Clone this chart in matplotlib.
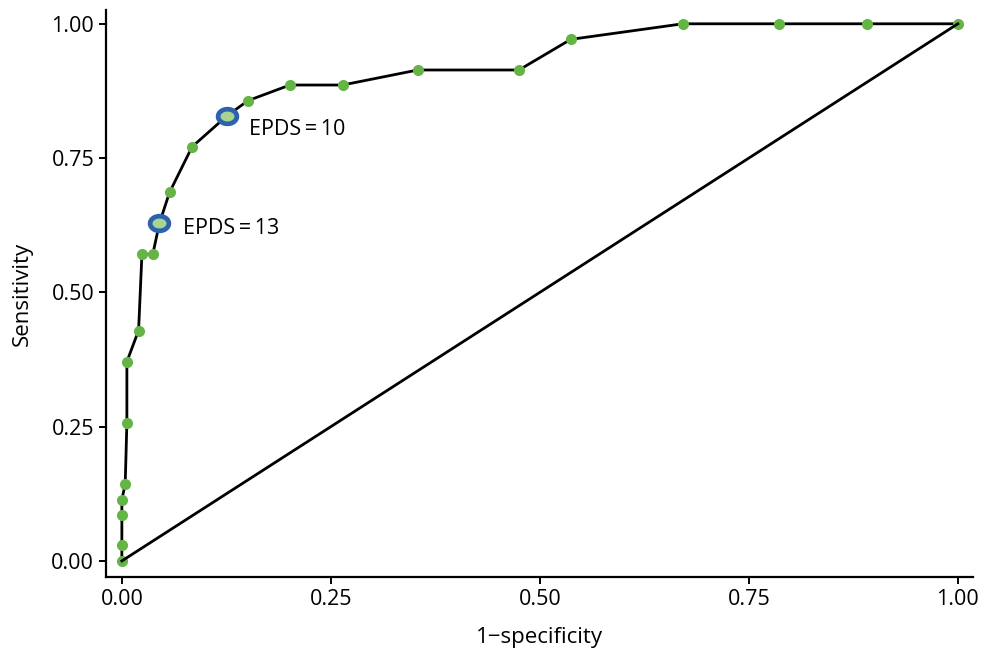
import numpy as np
import matplotlib
matplotlib.use('Agg')
import matplotlib.pyplot as plt
from matplotlib.path import Path

plt.rcParams['font.family'] = ['Open Sans', 'DejaVu Sans']

# ROC points (1 - specificity, sensitivity)
fpr = [0.0, 0.0, 0.0, 0.0, 0.004, 0.006, 0.006, 0.020, 0.024, 0.037, 0.045,
       0.057, 0.084, 0.126, 0.151, 0.201, 0.264, 0.354, 0.475, 0.537, 0.671,
       0.786, 0.891, 1.0]
tpr = [0.0, 0.029, 0.086, 0.114, 0.143, 0.257, 0.371, 0.429, 0.571, 0.571, 0.629,
       0.686, 0.771, 0.829, 0.857, 0.886, 0.886, 0.914, 0.914, 0.971, 1.0,
       1.0, 1.0, 1.0]

# highlighted cut-offs
cut_labels = ['EPDS\u2009=\u200910', 'EPDS\u2009=\u200913']
cut_x = [0.126, 0.045]
cut_y = [0.829, 0.629]
cut_offsets = [(16, -10), (17, -4)]

x_ticks = [0.0, 0.25, 0.5, 0.75, 1.0]
y_ticks = [0.0, 0.25, 0.5, 0.75, 1.0]

fig = plt.figure(figsize=(9.84, 6.55), dpi=100)
ax = fig.add_axes([0.1077, 0.119, 0.881, 0.866])

ax.plot(fpr, tpr, color='black', lw=2.0, zorder=2)
ax.plot(fpr, tpr, 'o', color='#64b446', ms=8, mec='none', zorder=3)

# ellipse marker for the cut-offs
t = np.linspace(0, 2 * np.pi, 60)
ell = Path(np.column_stack([np.cos(t), 0.78 * np.sin(t)]), closed=True)
ax.plot(cut_x, cut_y, ls='none', marker=ell, ms=13.5, mfc='#a8d390',
        mec='#2d62ad', mew=3.4, zorder=4)

ax.plot([0, 1], [0, 1], color='black', lw=2.0, zorder=5)

for lab, x, y, off in zip(cut_labels, cut_x, cut_y, cut_offsets):
    ax.annotate(lab, (x, y), xytext=off, textcoords='offset points',
                fontsize=15.5, va='center', ha='left')

ax.set_xlim(-0.019, 1.018)
ax.set_ylim(-0.030, 1.026)
ax.set_xticks(x_ticks)
ax.set_yticks(y_ticks)
ax.set_xticklabels(['%.2f' % v for v in x_ticks])
ax.set_yticklabels(['%.2f' % v for v in y_ticks])
ax.tick_params(labelsize=15.5, length=5, width=1.4, colors='black')
for s in ['top', 'right']:
    ax.spines[s].set_visible(False)
for s in ['left', 'bottom']:
    ax.spines[s].set_linewidth(1.6)

ax.set_xlabel('1\u2212specificity', fontsize=16, labelpad=12)
ax.set_ylabel('Sensitivity', fontsize=16, labelpad=13)

fig.savefig('out.png', dpi=100)
